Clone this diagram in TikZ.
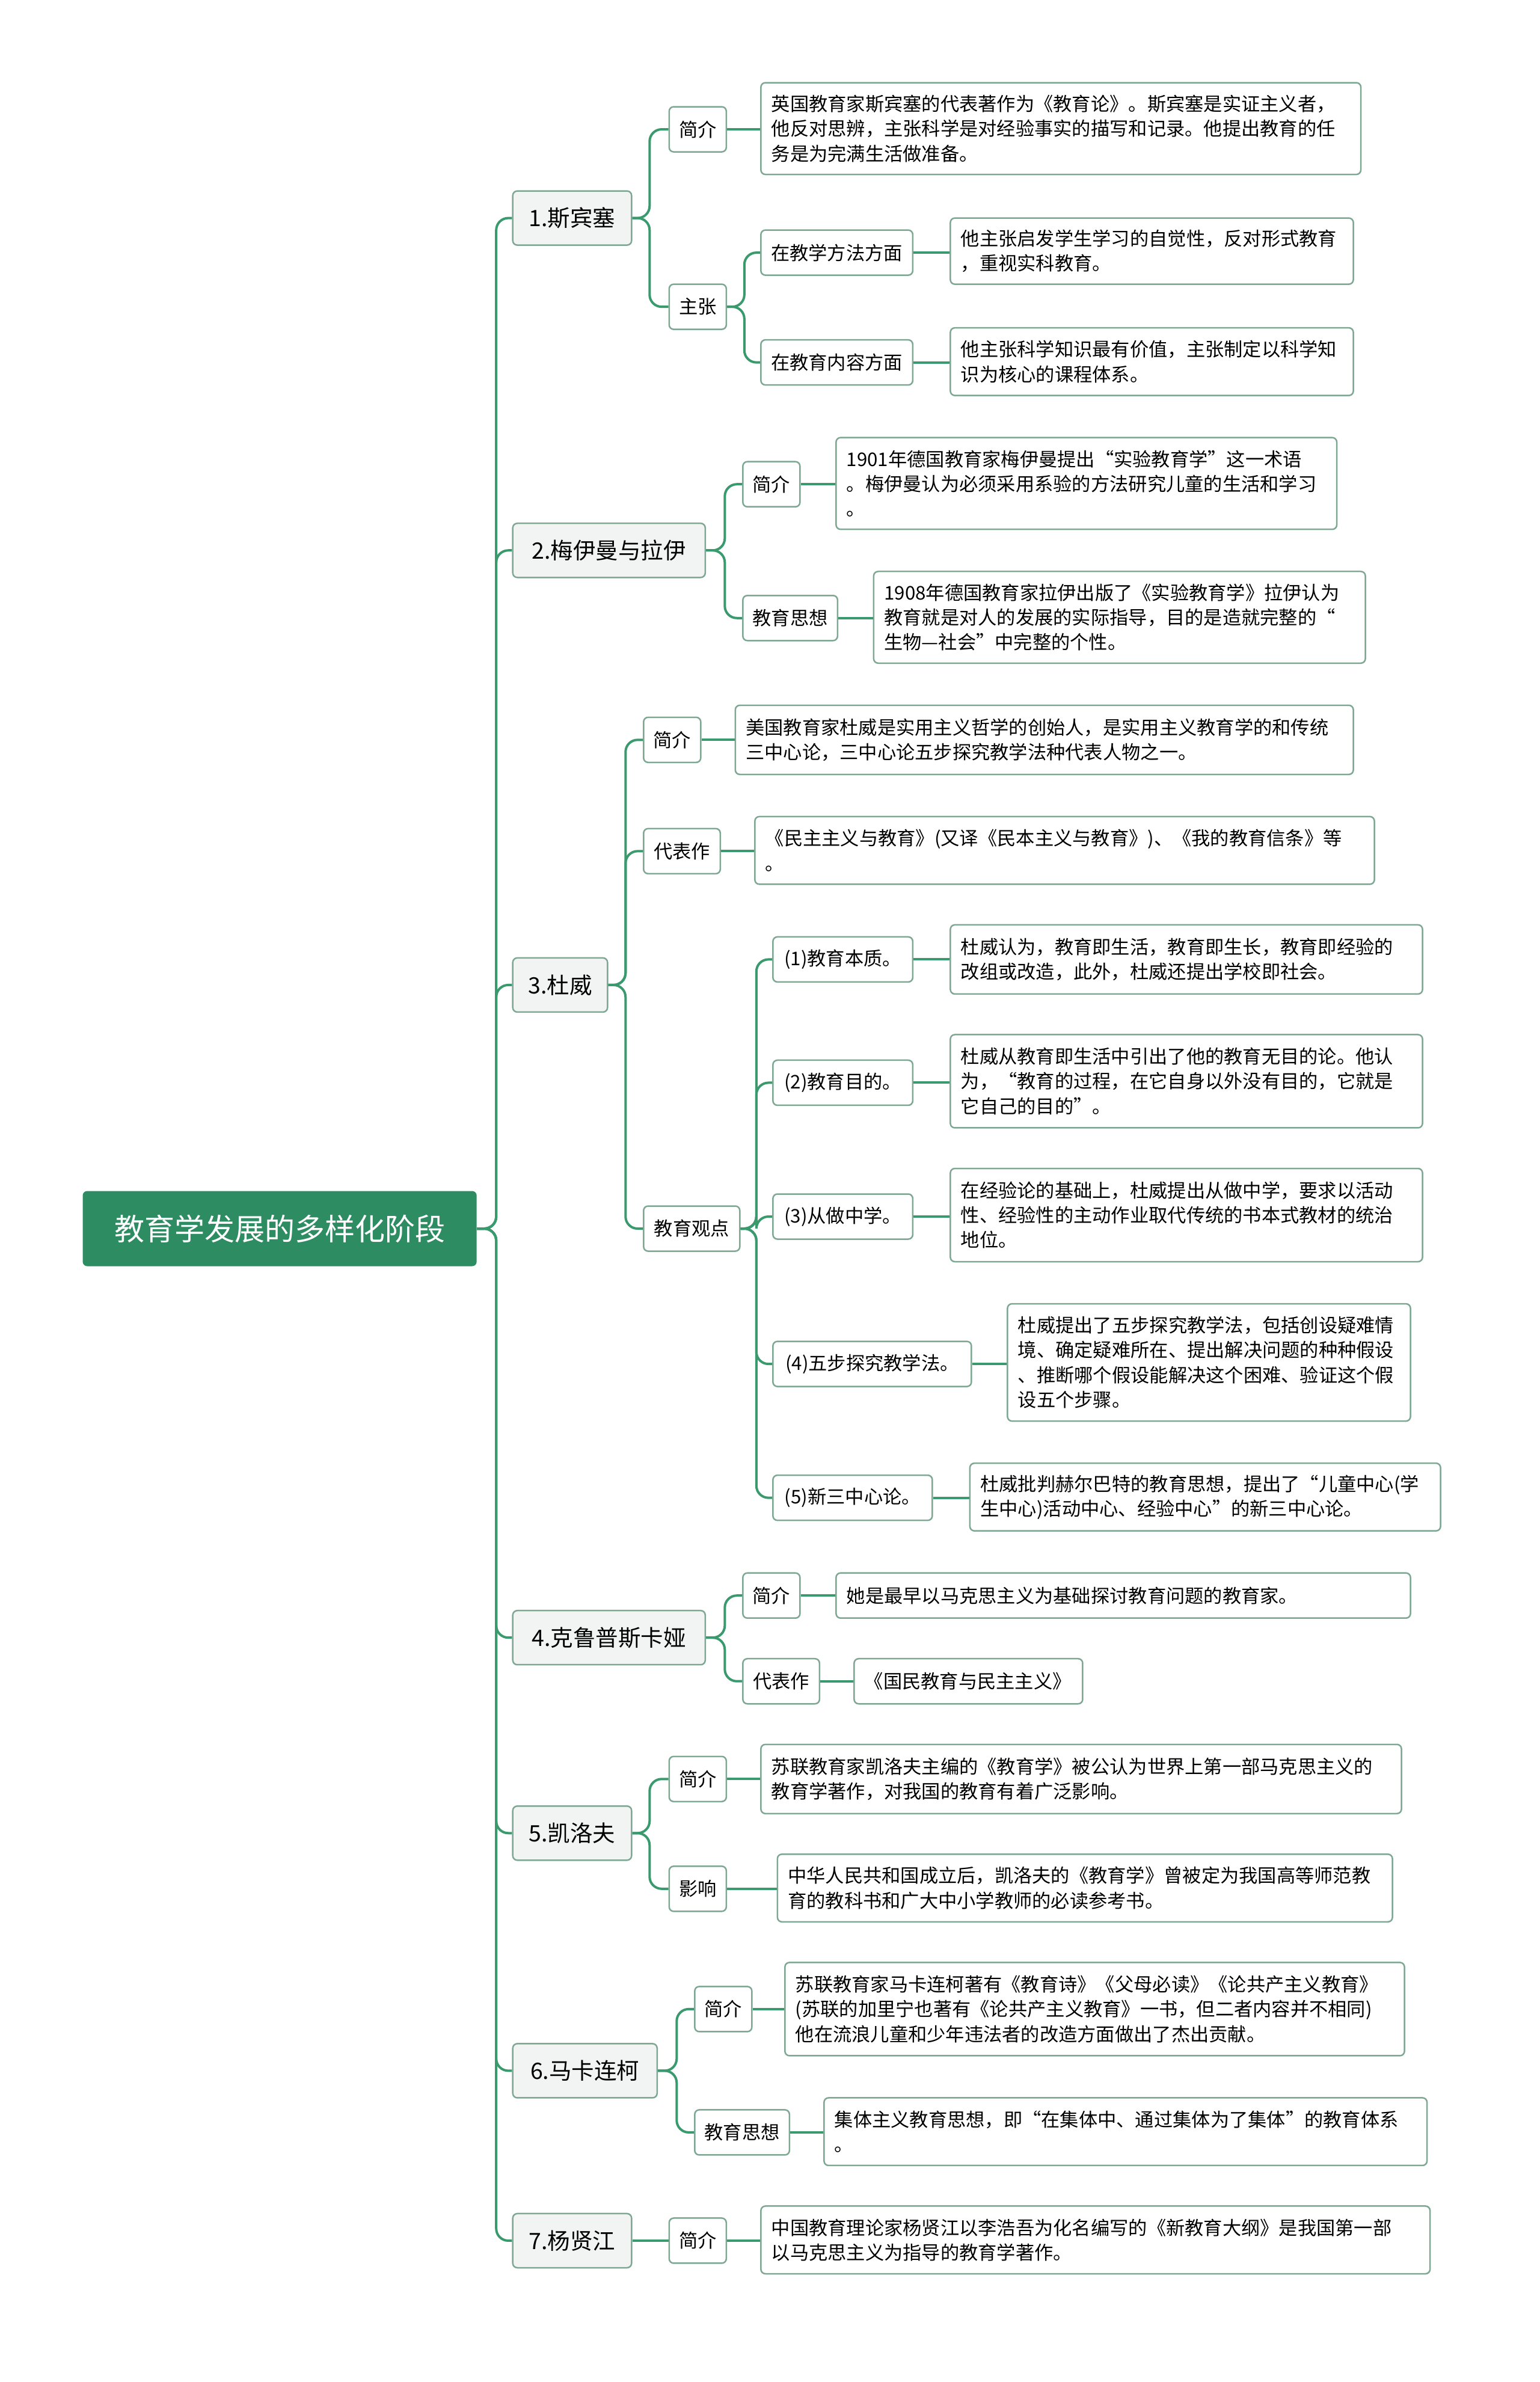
\documentclass[tikz,border=0pt]{standalone}
\usepackage{fontspec}
\setmainfont{Noto Sans CJK SC}
\definecolor{gr}{HTML}{2E8C63}
\definecolor{ln}{HTML}{3A9A6E}
\definecolor{lf}{HTML}{F2F4F3}
\definecolor{bd}{HTML}{7FA894}
\tikzset{
 conn/.style={draw=ln,line width=1.6pt,rounded corners=8pt},
 lvone/.style={draw=bd,fill=lf,line width=1pt,rounded corners=3pt,font=\fontsize{15}{18}\selectfont,inner sep=0pt,minimum height=36pt},
 lvtwo/.style={draw=bd,fill=white,line width=1pt,rounded corners=3pt,font=\fontsize{12.5}{15}\selectfont,inner sep=0pt,minimum height=30pt},
 leafbox/.style={draw=bd,fill=white,line width=1pt,rounded corners=3pt,font=\fontsize{12.5}{16.5}\selectfont,inner sep=0pt,align=left},
}
\newcommand\lone[5]{\node[#1,minimum width={#3-#2}] (#4) at ({(#2+#3)/2},-#5) {#4};}
\newcommand\nd[6]{\node[#1,minimum width={#3-#2}] (#5) at ({(#2+#3)/2},-#4) {#6};}
\newcommand\lf[6]{\node[leafbox,minimum width={#3-#2},minimum height={#5-#4},text width={#3-#2-14}] (#1) at ({(#2+#3)/2},{-(#4+#5)/2}) {#6};}
\begin{document}
\begin{tikzpicture}[x=1pt,y=1pt]
\useasboundingbox (0,0) rectangle (1024,-1584);
\node[fill=gr,text=white,rounded corners=3pt,minimum width=262pt,minimum height=50pt,font=\fontsize{20}{24}\selectfont] (root) at (186,-817) {教育学发展的多样化阶段};
% level 1
\nd{lvone}{341}{420}{145}{a}{1.斯宾塞}
\nd{lvone}{341}{469}{366}{b}{2.梅伊曼与拉伊}
\nd{lvone}{341}{404}{655}{c}{3.杜威}
\nd{lvone}{341}{469}{1089}{d}{4.克鲁普斯卡娅}
\nd{lvone}{341}{420}{1219}{e}{5.凯洛夫}
\nd{lvone}{341}{437}{1377}{f}{6.马卡连柯}
\nd{lvone}{341}{420}{1490}{g}{7.杨贤江}
\foreach \t in {a,b,c,d,e,f,g}{\draw[conn] (root.east) -- (330,-817) |- (\t.west);}
% level 2
\nd{lvtwo}{445}{483}{86}{a1}{简介}
\nd{lvtwo}{445}{483}{204}{a2}{主张}
\nd{lvtwo}{506}{607}{168}{a21}{在教学方法方面}
\nd{lvtwo}{506}{607}{241}{a22}{在教育内容方面}
\nd{lvtwo}{494}{532}{322}{b1}{简介}
\nd{lvtwo}{494}{557}{411}{b2}{教育思想}
\nd{lvtwo}{428}{466}{492}{c1}{简介}
\nd{lvtwo}{428}{479}{566}{c2}{代表作}
\nd{lvtwo}{428}{492}{817}{c3}{教育观点}
\nd{lvtwo}{514}{607}{638}{c31}{(1)教育本质。}
\nd{lvtwo}{514}{607}{720}{c32}{(2)教育目的。}
\nd{lvtwo}{514}{607}{809}{c33}{(3)从做中学。}
\nd{lvtwo}{514}{646}{907}{c34}{(4)五步探究教学法。}
\nd{lvtwo}{514}{620}{996}{c35}{(5)新三中心论。}
\nd{lvtwo}{494}{532}{1061}{d1}{简介}
\nd{lvtwo}{494}{545}{1118}{d2}{代表作}
\nd{lvtwo}{445}{483}{1183}{e1}{简介}
\nd{lvtwo}{445}{483}{1256}{e2}{影响}
\nd{lvtwo}{462}{500}{1336}{f1}{简介}
\nd{lvtwo}{462}{525}{1418}{f2}{教育思想}
\nd{lvtwo}{445}{483}{1490}{g1}{简介}
\foreach \p/\c/\x in {a/a1/432,a/a2/432,a2/a21/495,a2/a22/495,b/b1/482,b/b2/482,c/c1/416,c/c2/416,c/c3/416,c3/c31/503,c3/c32/503,c3/c33/503,c3/c34/503,c3/c35/503,d/d1/482,d/d2/482,e/e1/432,e/e2/432,f/f1/450,f/f2/450}{\draw[conn] (\p.east) -- (\x,0|-\p.east) |- (\c.west);}
\draw[conn] (g.east) -- (g1.west);
% leaves
\lf{la1}{506}{905}{55}{116}{英国教育家斯宾塞的代表著作为《教育论》。斯宾塞是实证主义者，\\他反对思辨，主张科学是对经验事实的描写和记录。他提出教育的任\\务是为完满生活做准备。}
\lf{la21}{632}{900}{145}{189}{他主张启发学生学习的自觉性，反对形式教育\\，重视实科教育。}
\lf{la22}{632}{900}{218}{263}{他主张科学知识最有价值，主张制定以科学知\\识为核心的课程体系。}
\lf{lb1}{556}{889}{291}{352}{1901年德国教育家梅伊曼提出“实验教育学”这一术语\\。梅伊曼认为必须采用系验的方法研究儿童的生活和学习\\。}
\lf{lb2}{581}{908}{380}{441}{1908年德国教育家拉伊出版了《实验教育学》拉伊认为\\教育就是对人的发展的实际指导，目的是造就完整的“\\生物—社会”中完整的个性。}
\lf{lc1}{489}{900}{469}{515}{美国教育家杜威是实用主义哲学的创始人，是实用主义教育学的和传统\\三中心论，三中心论五步探究教学法种代表人物之一。}
\lf{lc2}{502}{914}{543}{588}{《民主主义与教育》(又译《民本主义与教育》)、《我的教育信条》等\\。}
\lf{lc31}{632}{946}{615}{661}{杜威认为，教育即生活，教育即生长，教育即经验的\\改组或改造，此外，杜威还提出学校即社会。}
\lf{lc32}{632}{946}{688}{750}{杜威从教育即生活中引出了他的教育无目的论。他认\\为，“教育的过程，在它自身以外没有目的，它就是\\它自己的目的”。}
\lf{lc33}{632}{946}{777}{839}{在经验论的基础上，杜威提出从做中学，要求以活动\\性、经验性的主动作业取代传统的书本式教材的统治\\地位。}
\lf{lc34}{670}{938}{867}{945}{杜威提出了五步探究教学法，包括创设疑难情\\境、确定疑难所在、提出解决问题的种种假设\\、推断哪个假设能解决这个困难、验证这个假\\设五个步骤。}
\lf{lc35}{645}{958}{973}{1018}{杜威批判赫尔巴特的教育思想，提出了“儿童中心(学\\生中心)活动中心、经验中心”的新三中心论。}
\lf{ld1}{556}{938}{1046}{1076}{她是最早以马克思主义为基础探讨教育问题的教育家。}
\lf{ld2}{568}{720}{1103}{1133}{《国民教育与民主主义》}
\lf{le1}{506}{932}{1160}{1206}{苏联教育家凯洛夫主编的《教育学》被公认为世界上第一部马克思主义的\\教育学著作，对我国的教育有着广泛影响。}
\lf{le2}{517}{926}{1233}{1278}{中华人民共和国成立后，凯洛夫的《教育学》曾被定为我国高等师范教\\育的教科书和广大中小学教师的必读参考书。}
\lf{lf1}{522}{934}{1305}{1367}{苏联教育家马卡连柯著有《教育诗》《父母必读》《论共产主义教育》\\(苏联的加里宁也著有《论共产主义教育》一书，但二者内容并不相同)\\他在流浪儿童和少年违法者的改造方面做出了杰出贡献。}
\lf{lf2}{548}{949}{1395}{1440}{集体主义教育思想，即“在集体中、通过集体为了集体”的教育体系\\。}
\lf{lg1}{506}{951}{1467}{1512}{中国教育理论家杨贤江以李浩吾为化名编写的《新教育大纲》是我国第一部\\以马克思主义为指导的教育学著作。}
\foreach \c/\l in {a1/la1,a21/la21,a22/la22,b1/lb1,b2/lb2,c1/lc1,c2/lc2,c31/lc31,c32/lc32,c33/lc33,c34/lc34,c35/lc35,d1/ld1,d2/ld2,e1/le1,e2/le2,f1/lf1,f2/lf2,g1/lg1}{\draw[conn] (\c.east) -- (\c.east-|\l.west);}
\end{tikzpicture}
\end{document}
